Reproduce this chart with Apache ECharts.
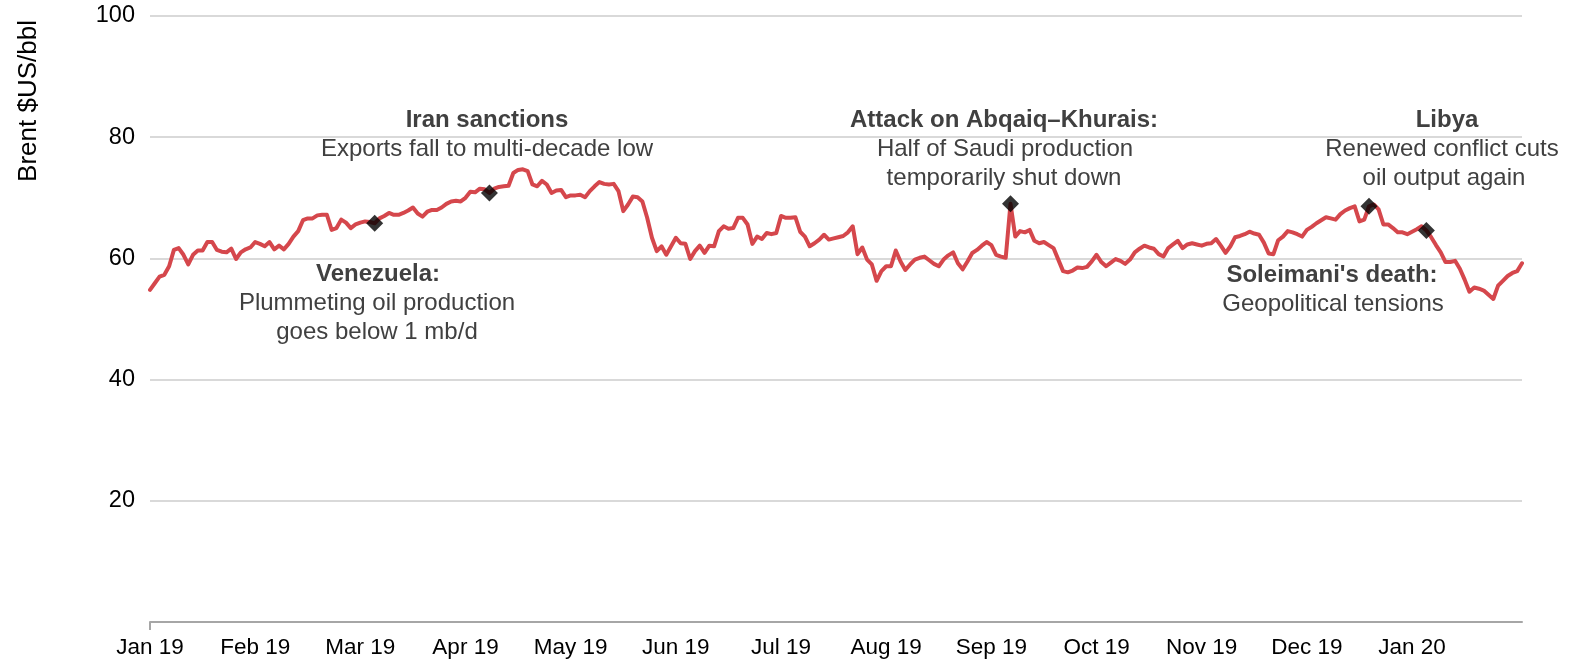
<!DOCTYPE html>
<html>
<head>
<meta charset="utf-8">
<script src="https://cdn.jsdelivr.net/npm/echarts@6/dist/echarts.min.js"></script>
<style>
  html, body { margin: 0; padding: 0; background: #ffffff; }
  #chart { width: 1573px; height: 661px; }
</style>
</head>
<body>
<div id="chart"></div>
<script>
// Month labels, one every 22 trading days
const monthLabels = ['Jan 19', 'Feb 19', 'Mar 19', 'Apr 19', 'May 19', 'Jun 19', 'Jul 19',
  'Aug 19', 'Sep 19', 'Oct 19', 'Nov 19', 'Dec 19', 'Jan 20'];
const labelStep = 22;

// Brent daily price, US$/bbl
const brent = [
  54.8, 55.9, 57.0, 57.3, 58.7, 61.4, 61.7, 60.6, 59.0, 60.6,
  61.3, 61.3, 62.7, 62.7, 61.4, 61.1, 61.0, 61.6, 59.9, 61.0,
  61.5, 61.8, 62.7, 62.4, 62.0, 62.7, 61.5, 62.1, 61.5, 62.4,
  63.6, 64.5, 66.3, 66.6, 66.6, 67.1, 67.2, 67.2, 64.7, 65.0,
  66.4, 65.9, 65.0, 65.6, 65.9, 66.1, 66.0, 65.8, 66.6, 67.0,
  67.5, 67.2, 67.2, 67.5, 67.9, 68.4, 67.4, 66.9, 67.7, 68.0,
  68.0, 68.4, 69.0, 69.4, 69.5, 69.4, 70.0, 71.0, 70.9, 71.5,
  71.4, 70.8, 71.5, 71.8, 71.9, 72.0, 74.1, 74.6, 74.7, 74.4,
  72.2, 71.9, 72.8, 72.2, 70.8, 71.2, 71.3, 70.1, 70.4, 70.4,
  70.5, 70.1, 71.1, 71.9, 72.6, 72.3, 72.2, 72.3, 71.1, 67.8,
  68.9, 70.2, 70.1, 69.4, 66.7, 63.4, 61.2, 62.0, 60.6, 62.0,
  63.4, 62.5, 62.4, 59.9, 61.2, 62.1, 60.9, 62.1, 62.0, 64.5,
  65.3, 64.9, 65.0, 66.7, 66.7, 65.6, 62.4, 63.6, 63.2, 64.2,
  64.0, 64.2, 67.0, 66.7, 66.7, 66.8, 64.4, 63.6, 62.0, 62.5,
  63.1, 63.9, 63.1, 63.3, 63.5, 63.7, 64.3, 65.3, 60.7, 61.8,
  59.8, 59.0, 56.3, 57.9, 58.7, 58.7, 61.3, 59.5, 58.1, 59.0,
  59.8, 60.1, 60.3, 59.7, 59.1, 58.7, 59.8, 60.5, 61.0, 59.2,
  58.2, 59.5, 60.9, 61.4, 62.1, 62.7, 62.2, 60.6, 60.3, 60.1,
  69.0, 63.6, 64.5, 64.3, 64.7, 62.9, 62.5, 62.7, 62.2, 61.7,
  59.8, 57.9, 57.7, 58.0, 58.5, 58.4, 58.6, 59.5, 60.6, 59.4,
  58.7, 59.3, 59.9, 59.6, 59.1, 59.8, 61.0, 61.6, 62.1, 61.8,
  61.6, 60.7, 60.3, 61.7, 62.3, 62.9, 61.7, 62.3, 62.5, 62.3,
  62.1, 62.4, 62.5, 63.2, 62.1, 60.9, 62.0, 63.5, 63.7, 64.0,
  64.4, 64.1, 63.9, 62.6, 60.8, 60.7, 63.0, 63.6, 64.5, 64.3,
  64.0, 63.6, 64.7, 65.2, 65.8, 66.3, 66.8, 66.6, 66.4, 67.3,
  67.9, 68.3, 68.6, 66.1, 66.4, 68.6, 68.9, 68.1, 65.6, 65.6,
  65.0, 64.3, 64.3, 64.0, 64.4, 64.8, 65.3, 64.6, 63.5, 62.2,
  61.0, 59.4, 59.4, 59.6, 58.3, 56.5, 54.5, 55.2, 55.0, 54.7,
  54.0, 53.3, 55.5, 56.3, 57.1, 57.6, 57.9, 59.2
];

// Trading-day positions of the marked events
const eventDays = [47, 71, 180, 255, 267];

// Y axis ticks
const yTicks = [0, 20, 40, 60, 80, 100];

// Event notes: bold heading followed by plain lines
const notes = [
  { title: 'Iran sanctions', lines: ['Exports fall to multi-decade low'] },
  { title: 'Venezuela:', lines: ['Plummeting oil production', 'goes below 1 mb/d'] },
  { title: 'Attack on Abqaiq\u2013Khurais:', lines: ['Half of Saudi production', 'temporarily shut down'] },
  { title: 'Libya', lines: ['Renewed conflict cuts', 'oil output again'] },
  { title: "Soleimani's death:", lines: ['Geopolitical tensions'] }
];

// Where each note block sits on the canvas (centre x, first-line y, per-line x)
const noteLayout = [
  { x: 487, y: 120, lineX: [487] },
  { x: 378, y: 274, lineX: [377, 377] },
  { x: 1004, y: 120, lineX: [1005, 1004] },
  { x: 1447, y: 120, lineX: [1442, 1444] },
  { x: 1332, y: 275, lineX: [1333] }
];

const FONT = '"Liberation Sans", Arial, sans-serif';
const noteColor = '#404040';
const lineGap = 29;

const categories = brent.map((_, i) => String(i));
const eventData = eventDays.map(d => [d, brent[d]]);

const graphics = [];
notes.forEach((n, k) => {
  const L = noteLayout[k];
  graphics.push({
    type: 'text', z: 100,
    style: { text: n.title, x: L.x, y: L.y, align: 'center', verticalAlign: 'middle',
      font: 'bold 24px ' + FONT, fill: noteColor }
  });
  n.lines.forEach((t, j) => {
    graphics.push({
      type: 'text', z: 100,
      style: { text: t, x: L.lineX[j], y: L.y + lineGap * (j + 1), align: 'center', verticalAlign: 'middle',
        font: '24px ' + FONT, fill: noteColor }
    });
  });
});
graphics.push({
  type: 'text', z: 100,
  x: 29, y: 101, rotation: Math.PI / 2,
  style: { text: 'Brent $US/bbl', x: 0, y: 0, align: 'center', verticalAlign: 'middle',
    font: '26px ' + FONT, fill: '#000000' }
});

const chart = echarts.init(document.getElementById('chart'), null, { renderer: 'canvas' });
chart.setOption({
  animation: false,
  backgroundColor: '#ffffff',
  grid: { left: 150, right: 51, top: 16, bottom: 39, containLabel: false },
  xAxis: {
    type: 'category',
    data: categories,
    boundaryGap: false,
    axisLine: { show: true, lineStyle: { color: '#a6a6a6', width: 2 } },
    axisTick: { show: true, interval: (idx) => idx === 0, length: 8, lineStyle: { color: '#a6a6a6', width: 2 } },
    axisLabel: {
      interval: labelStep - 1,
      margin: 14,
      color: '#000000',
      fontFamily: FONT,
      fontSize: 22.5,
      formatter: (v, idx) => monthLabels[Math.round(idx / labelStep)] || ''
    },
    splitLine: { show: false }
  },
  yAxis: {
    type: 'value',
    min: yTicks[0],
    max: yTicks[yTicks.length - 1],
    interval: yTicks[1] - yTicks[0],
    axisLine: { show: false },
    axisTick: { show: false },
    axisLabel: {
      margin: 15,
      color: '#000000',
      fontFamily: FONT,
      fontSize: 23.5,
      formatter: (v) => (v === 0 ? '' : String(v))
    },
    splitLine: { show: true, lineStyle: { color: '#d9d9d9', width: 2 } }
  },
  series: [
    {
      type: 'line',
      data: brent,
      showSymbol: false,
      symbol: 'none',
      lineStyle: { color: '#d5474c', width: 4, join: 'round', cap: 'round' },
      z: 3
    },
    {
      type: 'scatter',
      data: eventData,
      symbol: 'diamond',
      symbolSize: 17,
      itemStyle: { color: '#000000' },
      z: 5
    }
  ],
  graphic: graphics
});
</script>
</body>
</html>
